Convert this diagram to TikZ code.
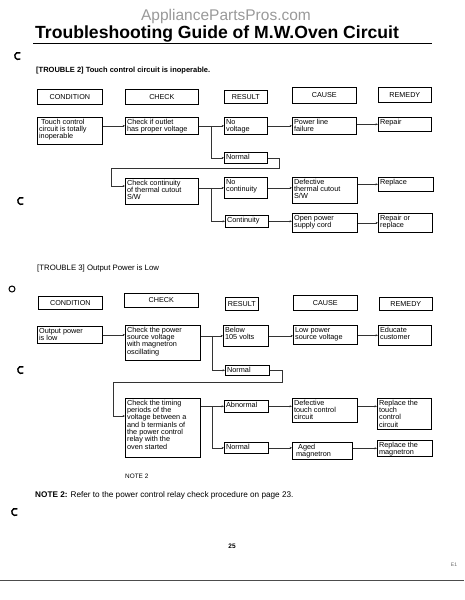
\documentclass[tikz,border=0pt]{standalone}
\usepackage{fontspec}
\setmainfont{Liberation Sans}
\usetikzlibrary{arrows.meta}

\newcommand{\cell}[3]{\parbox[c][#2pt][t]{#1pt}{\raggedright\leftskip=1.8pt
  \fontsize{7.3}{7.3}\selectfont\vspace*{1.8pt}#3}}

\tikzset{
  hd/.style={draw, line width=0.7pt, anchor=north west, inner sep=0pt,
    font=\fontsize{7.2}{8}\selectfont},
  bx/.style={draw, line width=0.6pt, anchor=north west, inner sep=0pt},
  ln/.style={draw=black!80, line width=0.45pt, -{Stealth[length=2.4pt,width=2pt]}},
  hole/.style={line width=1.4pt, line cap=round}
}

\begin{document}
\begin{tikzpicture}[x=1pt, y=-1pt]
  \useasboundingbox (0,0) rectangle (464,600);

  % page heading
  \node[anchor=base, text=black!40, font=\fontsize{15.5}{17}\selectfont] (wm) at (226,20.5)
    {AppliancePartsPros.com};
  \node[anchor=base west, inner sep=0pt, font=\fontsize{17.6}{19}\selectfont\bfseries] (T) at (35,38.5)
    {Troubleshooting Guide of M.W.Oven Circuit};
  \draw[line width=1.1pt] (33,43.5) -- (432,43.5);

  % TROUBLE 2
  \node[anchor=base west, inner sep=0pt, font=\fontsize{7.5}{8}\selectfont\bfseries] (t2) at (36,72)
    {[TROUBLE 2] Touch control circuit is inoperable.};

  \node[hd, minimum width=65pt, minimum height=15pt] (h1) at (37,89) {CONDITION};
  \node[hd, minimum width=73pt, minimum height=15pt] (h2) at (125,89) {CHECK};
  \node[hd, minimum width=43pt, minimum height=13pt] (h3) at (224,90) {RESULT};
  \node[hd, minimum width=64pt, minimum height=16pt] (h4) at (292,87) {CAUSE};
  \node[hd, minimum width=53pt, minimum height=15pt] (h5) at (378,87) {REMEDY};

  \node[bx] (a1) at (37,117) {\cell{65}{27}{\ Touch control\\circuit is totally\\inoperable}};
  \node[bx] (a2) at (125,117) {\cell{73}{17}{Check if outlet\\has proper voltage}};
  \node[bx] (a3) at (224,117) {\cell{43}{17}{No\\voltage}};
  \node[bx] (a4) at (292,117) {\cell{64}{17}{Power line\\failure}};
  \node[bx] (a5) at (378,117) {\cell{53}{14}{Repair}};
  \node[bx] (a6) at (224,152) {\cell{43}{11}{Normal}};
  \node[bx] (a7) at (125,178) {\cell{73}{26}{Check continuity\\of thermal cutout\\S/W}};
  \node[bx] (a8) at (224,177) {\cell{43}{21}{No\\continuity}};
  \node[bx] (a9) at (292,177) {\cell{65}{26}{Defective\\thermal cutout\\S/W}};
  \node[bx] (a10) at (378,177) {\cell{55}{14}{Replace}};
  \node[bx] (a11) at (225,215) {\cell{43}{12}{Continuity}};
  \node[bx] (a12) at (292,213) {\cell{65}{19}{Open power\\supply cord}};
  \node[bx] (a13) at (378,213) {\cell{54}{19}{Repair or\\replace}};

  \coordinate (j1) at ([xshift=13pt]a2.east);
  \coordinate (j2) at ([xshift=13pt]a7.east |- a8.west);
  \draw[ln] (a1.east |- a2.west) -- (a2.west);
  \draw[ln] (a2.east) -- (a3.west);
  \draw[ln] (j1) |- (a6.west);
  \draw[ln] (a3.east) -- (a4.west |- a3.east);
  \draw[ln] (a4.east |- a5.west) -- (a5.west);
  \draw[ln] (a6.east) -- ++(12,0) |- (111,168) |- ([yshift=-8pt]a7.north west);
  \draw[ln] (a7.east |- a8.west) -- (a8.west);
  \draw[ln] (j2) |- (a11.west);
  \draw[ln] (a8.east) -- (a9.west |- a8.east);
  \draw[ln] (a9.east |- a10.west) -- (a10.west);
  \draw[ln] (a11.east) -- (a12.west |- a11.east);
  \draw[ln] (a12.east) -- (a13.west);

  % TROUBLE 3
  \node[anchor=base west, inner sep=0pt, font=\fontsize{7.8}{8}\selectfont] (t3) at (37,270)
    {[TROUBLE 3] Output Power is Low};

  \node[hd, minimum width=64pt, minimum height=13pt] (g1) at (38,296) {CONDITION};
  \node[hd, minimum width=74pt, minimum height=14pt] (g2) at (124,293) {CHECK};
  \node[hd, minimum width=33pt, minimum height=13pt] (g3) at (225,297) {RESULT};
  \node[hd, minimum width=64pt, minimum height=15pt] (g4) at (293,295) {CAUSE};
  \node[hd, minimum width=53pt, minimum height=13pt] (g5) at (379,297) {REMEDY};

  \node[bx] (b1) at (37,326) {\cell{65}{17}{Output power\\is low}};
  \node[bx] (b2) at (125,325) {\cell{75}{35}{Check the power\\source voltage\\with magnetron\\oscillating}};
  \node[bx] (b3) at (223,325) {\cell{45}{21}{Below\\105 volts}};
  \node[bx] (b4) at (293,325) {\cell{64}{19}{Low power\\source voltage}};
  \node[bx] (b5) at (378,325) {\cell{53}{20}{Educate\\customer}};
  \node[bx] (b6) at (225,365) {\cell{44}{10}{Normal}};
  \node[bx] (b7) at (125,398) {\cell{75}{59}{Check the timing\\periods of the\\voltage between a\\and b termianls of\\the power control\\relay with the\\oven started}};
  \node[bx] (b8) at (224,400) {\cell{44}{12}{Abnormal}};
  \node[bx] (b9) at (292,398) {\cell{65}{24}{Defective\\touch control\\circuit}};
  \node[bx] (b10) at (377,398) {\cell{54}{31}{Replace the\\touch\\control\\circuit}};
  \node[bx] (b11) at (224,442) {\cell{44}{11}{Normal}};
  \node[bx] (b12) at (292,442) {\cell{60}{17}{\ \ Aged\\\ magnetron}};
  \node[bx] (b13) at (377,440) {\cell{55}{16}{Replace the\\magnetron}};

  \coordinate (j3) at ([xshift=12pt]b2.east |- b3.west);
  \coordinate (j4) at ([xshift=12pt]b7.east |- b8.west);
  \draw[ln] (b1.east) -- (b2.west |- b1.east);
  \draw[ln] (b2.east |- b3.west) -- (b3.west);
  \draw[ln] (j3) |- (b6.west);
  \draw[ln] (b3.east) -- (b4.west |- b3.east);
  \draw[ln] (b4.east |- b5.west) -- (b5.west);
  \draw[ln] (b6.east) -- ++(13,0) |- (113,382) |- ([yshift=-18pt]b7.north west);
  \draw[ln] (b7.east |- b8.west) -- (b8.west);
  \draw[ln] (j4) |- (b11.west);
  \draw[ln] (b8.east) -- (b9.west |- b8.east);
  \draw[ln] (b9.east |- b8.east) -- (b10.west |- b8.east);
  \draw[ln] (b11.east) -- (b12.west |- b11.east);
  \draw[ln] (b12.east |- b13.west) -- (b13.west);

  % notes and page foot
  \node[anchor=base west, inner sep=0pt, font=\fontsize{6.4}{7}\selectfont] (n2) at (125,478) {NOTE 2};
  \node[anchor=base west, inner sep=0pt, font=\fontsize{8.2}{9}\selectfont] (nt) at (35,497)
    {\textbf{NOTE 2:} Refer to the power control relay check procedure on page 23.};
  \node[anchor=base, inner sep=0pt, font=\fontsize{6.5}{7}\selectfont\bfseries] (pg) at (232,548) {25};
  \node[anchor=base, inner sep=0pt, text=black!60, font=\fontsize{5}{6}\selectfont] (e1) at (454,566) {E1};
  \draw[black!70, line width=0.8pt] (0,580) -- (464,580);

  % punch marks
  \draw[hole] (20,59) arc (60:300:3.5);
  \draw[hole] (23,204) arc (60:300:3.5);
  \draw[hole, line width=1pt] (12,289) circle (3);
  \draw[hole] (23,373) arc (60:300:3.5);
  \draw[hole] (17,515) arc (60:300:3.5);
\end{tikzpicture}
\end{document}
